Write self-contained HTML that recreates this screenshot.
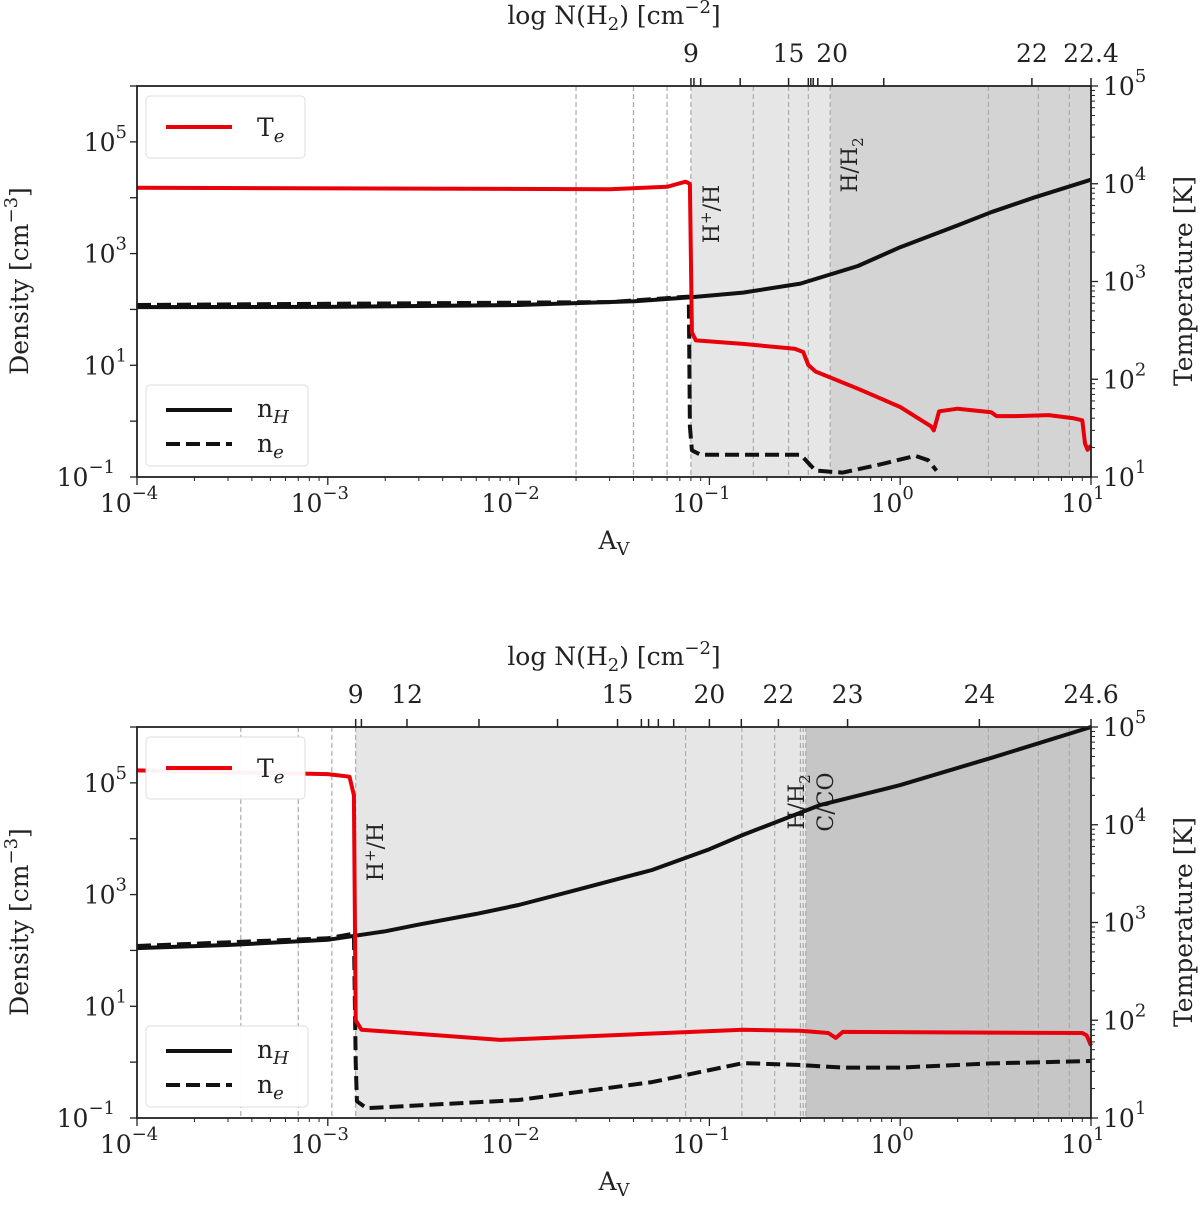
<!DOCTYPE html>
<html><head><meta charset="utf-8"><style>
body{margin:0;background:#fff}
svg text{font-family:"DejaVu Serif","Liberation Serif",serif;fill:#222}
</style></head><body>
<svg id="chart" width="1200" height="1203" xmlns="http://www.w3.org/2000/svg"></svg>
<script>
// ---- data: panel 1 ----
const p1TeAv=[1e-4,0.03,0.06,0.075,0.079,0.081,0.085,0.15,0.28,0.31,0.33,0.36,0.6,1.0,1.45,1.5,1.6,2,3,3.2,4,6,8,9,9.3,9.6,10];
const p1Te=[9100,8800,9300,10500,10000,300,250,230,205,190,140,120,80,52,33,30,47,50,46,42,42,43,40,38,22,19,21];
const p1nHAv=[1e-4,0.001,0.01,0.04,0.08,0.15,0.3,0.6,1,2,3,5,10];
const p1nH=[110,111,120,140,165,200,290,600,1300,3200,5500,10000,21000];
const p1neAv=[1e-4,0.03,0.078,0.079,0.081,0.09,0.3,0.32,0.36,0.5,0.8,1.2,1.4,1.55];
const p1ne=[120,135,170,0.8,0.3,0.25,0.25,0.2,0.13,0.12,0.17,0.24,0.2,0.13];
const p1Dashes=[0.02,0.04,0.06,0.08,0.17,0.26,0.33,0.43,2.9,5.3,7.7];
const p1TopTicks=[0.08,0.083,0.09,0.145,0.26,0.33,0.34,0.35,0.37,0.44,0.82,4.9,10];
const p1TopLabels=[["9",0.08],["15",0.26],["20",0.44],["22",4.9],["22.4",10]];
// ---- data: panel 2 ----
const p2TeAv=[1e-4,1e-3,1.3e-3,1.37e-3,1.4e-3,1.5e-3,0.008,0.15,0.3,0.42,0.46,0.5,9,9.5,10];
const p2Te=[36000,33000,31000,20000,100,80,63,80,78,74,66,76,74,70,55];
const p2nHAv=[1e-4,3e-4,1e-3,2e-3,3e-3,6e-3,0.01,0.02,0.05,0.1,0.15,0.38,1,3,10];
const p2nH=[110,125,155,220,290,450,650,1200,2750,6500,11700,40000,91000,280000,1e6];
const p2neAv=[1e-4,1e-3,1.37e-3,1.4e-3,1.42e-3,1.6e-3,0.01,0.05,0.15,0.3,0.5,1,3,10];
const p2ne=[120,165,200,1,0.2,0.15,0.21,0.44,0.96,0.89,0.8,0.8,0.95,1.05];
const p2Dashes=[3.5e-4,7e-4,1.05e-3,1.4e-3,0.075,0.148,0.22,0.3,0.31,0.32,2.9,5.3,7.7];
const p2TopTicks=[1.4e-3,1.5e-3,2.6e-3,6.2e-3,0.016,0.033,0.044,0.048,0.054,0.065,0.1,0.147,0.23,0.53,2.6,10];
const p2TopLabels=[["9",1.4e-3],["12",2.6e-3],["15",0.033],["20",0.1],["22",0.23],["23",0.53],["24",2.6],["24.6",10]];

const NS="http://www.w3.org/2000/svg";
const svg=document.getElementById('chart');
const X0=137,X1=1091;
const xs=a=>X0+(Math.log10(a)+4)/5*(X1-X0);
function el(t,at,parent){const e=document.createElementNS(NS,t);for(const k in at)e.setAttribute(k,at[k]);(parent||svg).appendChild(e);return e;}
function txt(s,x,y,at,parent){const e=el('text',Object.assign({x:x,y:y},at||{}),parent);e.innerHTML=s;return e;}
const FS=25, SS=18;

function panel(top,d){
  const bot=top+391;
  const yd=n=>bot-(Math.log10(n)+1)/7*391;
  const yt=T=>bot-(Math.log10(T)-1)/4*391;
  const g=el('g',{});
  
  
  const s1=el('rect',{x:xs(d.sh[0]),y:top,width:xs(d.sh[1])-xs(d.sh[0]),height:391,fill:'#e6e6e6'},g);
  
  const s2=el('rect',{x:xs(d.sh[1]),y:top,width:X1-xs(d.sh[1]),height:391,fill:d.dark},g);
  
  d.dashes.forEach(a=>{const l=el('line',{x1:xs(a),x2:xs(a),y1:top,y2:bot,stroke:'#aaa','stroke-width':1.2,'stroke-dasharray':'5,3'},g);
    });
  d.regLabels.forEach(r=>{const t=txt(r[0],0,0,{transform:`translate(${r[1]},${r[2]}) rotate(-90)`,'font-size':22,'text-anchor':'middle'},g);
    });
  const path=(av,v,f)=>av.map((a,i)=>(i?'L':'M')+xs(a).toFixed(1)+','+f(v[i]).toFixed(1)).join(' ');
  const nH=el('path',{d:path(d.nHAv,d.nH,yd),fill:'none',stroke:'#111','stroke-width':4,'stroke-linejoin':'round'},g);
  
  const ne=el('path',{d:path(d.neAv,d.ne,yd),fill:'none',stroke:'#111','stroke-width':4,'stroke-dasharray':'14,6','stroke-linejoin':'round'},g);
  
  const te=el('path',{d:path(d.TeAv,d.Te,yt),fill:'none',stroke:'#e8000b','stroke-width':4,'stroke-linejoin':'round'},g);
  
  const fr=el('rect',{x:X0,y:top,width:X1-X0,height:391,fill:'none',stroke:'#222','stroke-width':1.8},g);
  
  for(let e=-4;e<=1;e++){
    el('line',{x1:xs(10**e),x2:xs(10**e),y1:bot,y2:bot+8,stroke:'#222','stroke-width':1.3},g);
    const t=txt(`10<tspan dy="-13" font-size="${SS}">${e<0?'−'+(-e):e}</tspan>`,xs(10**e)-8,bot+35,{'font-size':FS,'text-anchor':'middle'},g);
    
    if(e<1)for(let k=2;k<10;k++)el('line',{x1:xs(k*10**e),x2:xs(k*10**e),y1:bot,y2:bot+4,stroke:'#222'},g);
  }
  const xt=txt(`A<tspan dy="6" font-size="${SS}">V</tspan>`,614,bot+72,{'font-size':FS,'text-anchor':'middle'},g);
  
  for(let e=-1;e<=6;e++){
    el('line',{x1:X0-7,x2:X0,y1:yd(10**e),y2:yd(10**e),stroke:'#222','stroke-width':1.3},g);
    if(e%2!==0&&e<6){const t=txt(`10<tspan dy="-13" font-size="${SS}">${e<0?'−'+(-e):e}</tspan>`,X0-10-(e<0?12:0),yd(10**e)+9,{'font-size':FS,'text-anchor':'end'},g);
      }
  }
  const yl=txt(`Density [cm<tspan dy="-11" font-size="${SS}">−3</tspan><tspan dy="11">]</tspan>`,0,0,{transform:`translate(28,${top+195}) rotate(-90)`,'font-size':FS,'text-anchor':'middle'},g);
  
  for(let e=1;e<=5;e++){
    el('line',{x1:X1,x2:X1+7,y1:yt(10**e),y2:yt(10**e),stroke:'#222','stroke-width':1.3},g);
    const t=txt(`10<tspan dy="-13" font-size="${SS}">${e}</tspan>`,X1+12,yt(10**e)+9,{'font-size':FS},g);
    
    if(e<5)for(let k=2;k<10;k++)el('line',{x1:X1,x2:X1+4,y1:yt(k*10**e),y2:yt(k*10**e),stroke:'#222'},g);
  }
  const yr=txt('Temperature [K]',0,0,{transform:`translate(1192,${top+195}) rotate(-90)`,'font-size':FS,'text-anchor':'middle'},g);
  
  d.topTicks.forEach(a=>el('line',{x1:xs(a),x2:xs(a),y1:top-8,y2:top,stroke:'#222','stroke-width':1.5},g));
  d.topLabels.forEach(l=>{const t=txt(l[0],xs(l[1]),top-24,{'font-size':FS,'text-anchor':'middle'},g);
    });
  const tt=txt(`log N(H<tspan dy="6" font-size="${SS}">2</tspan><tspan dy="-6">) [cm</tspan><tspan dy="-11" font-size="${SS}">−2</tspan><tspan dy="11">]</tspan>`,d.topTitleX,top-62,{'font-size':FS,'text-anchor':'middle'},g);
  
  const l1=el('g',{},g);
  el('rect',{x:146,y:top+10,width:159,height:62,rx:4,fill:'#fff','fill-opacity':0.95,stroke:'#ddd'},l1);
  el('line',{x1:166,x2:232,y1:top+41,y2:top+41,stroke:'#e8000b','stroke-width':4},l1);
  txt(`T<tspan dy="6" font-size="${SS}" font-style="italic">e</tspan>`,257,top+50,{'font-size':FS},l1);
  const l2=el('g',{},g);
  el('rect',{x:146,y:top+299,width:162,height:81,rx:4,fill:'#fff','fill-opacity':0.95,stroke:'#ddd'},l2);
  el('line',{x1:166,x2:232,y1:top+324,y2:top+324,stroke:'#111','stroke-width':4},l2);
  el('line',{x1:166,x2:232,y1:top+358,y2:top+358,stroke:'#111','stroke-width':4,'stroke-dasharray':'14,6'},l2);
  txt(`n<tspan dy="6" font-size="${SS}" font-style="italic">H</tspan>`,257,top+331,{'font-size':FS},l2);
  txt(`n<tspan dy="6" font-size="${SS}" font-style="italic">e</tspan>`,257,top+366,{'font-size':FS},l2);
}
panel(86,{name:'panel-top',sh:[0.08,0.43],dark:'#d4d4d4',dashes:p1Dashes,TeAv:p1TeAv,Te:p1Te,nHAv:p1nHAv,nH:p1nH,neAv:p1neAv,ne:p1ne,
  topTicks:p1TopTicks,topLabels:p1TopLabels,topTitleX:614,regLabels:[['H<tspan dy="-8" font-size="15">+</tspan><tspan dy="8">/H</tspan>',719,214],['H/H<tspan dy="6" font-size="15">2</tspan>',857,165]]});
panel(727,{name:'panel-bottom',sh:[1.4e-3,0.32],dark:'#c6c6c6',dashes:p2Dashes,TeAv:p2TeAv,Te:p2Te,nHAv:p2nHAv,nH:p2nH,neAv:p2neAv,ne:p2ne,
  topTicks:p2TopTicks,topLabels:p2TopLabels,topTitleX:614,regLabels:[['H<tspan dy="-8" font-size="15">+</tspan><tspan dy="8">/H</tspan>',383,852],['H/H<tspan dy="6" font-size="15">2</tspan>',804,802],['C/CO',833,802]]});
</script>
</body></html>
